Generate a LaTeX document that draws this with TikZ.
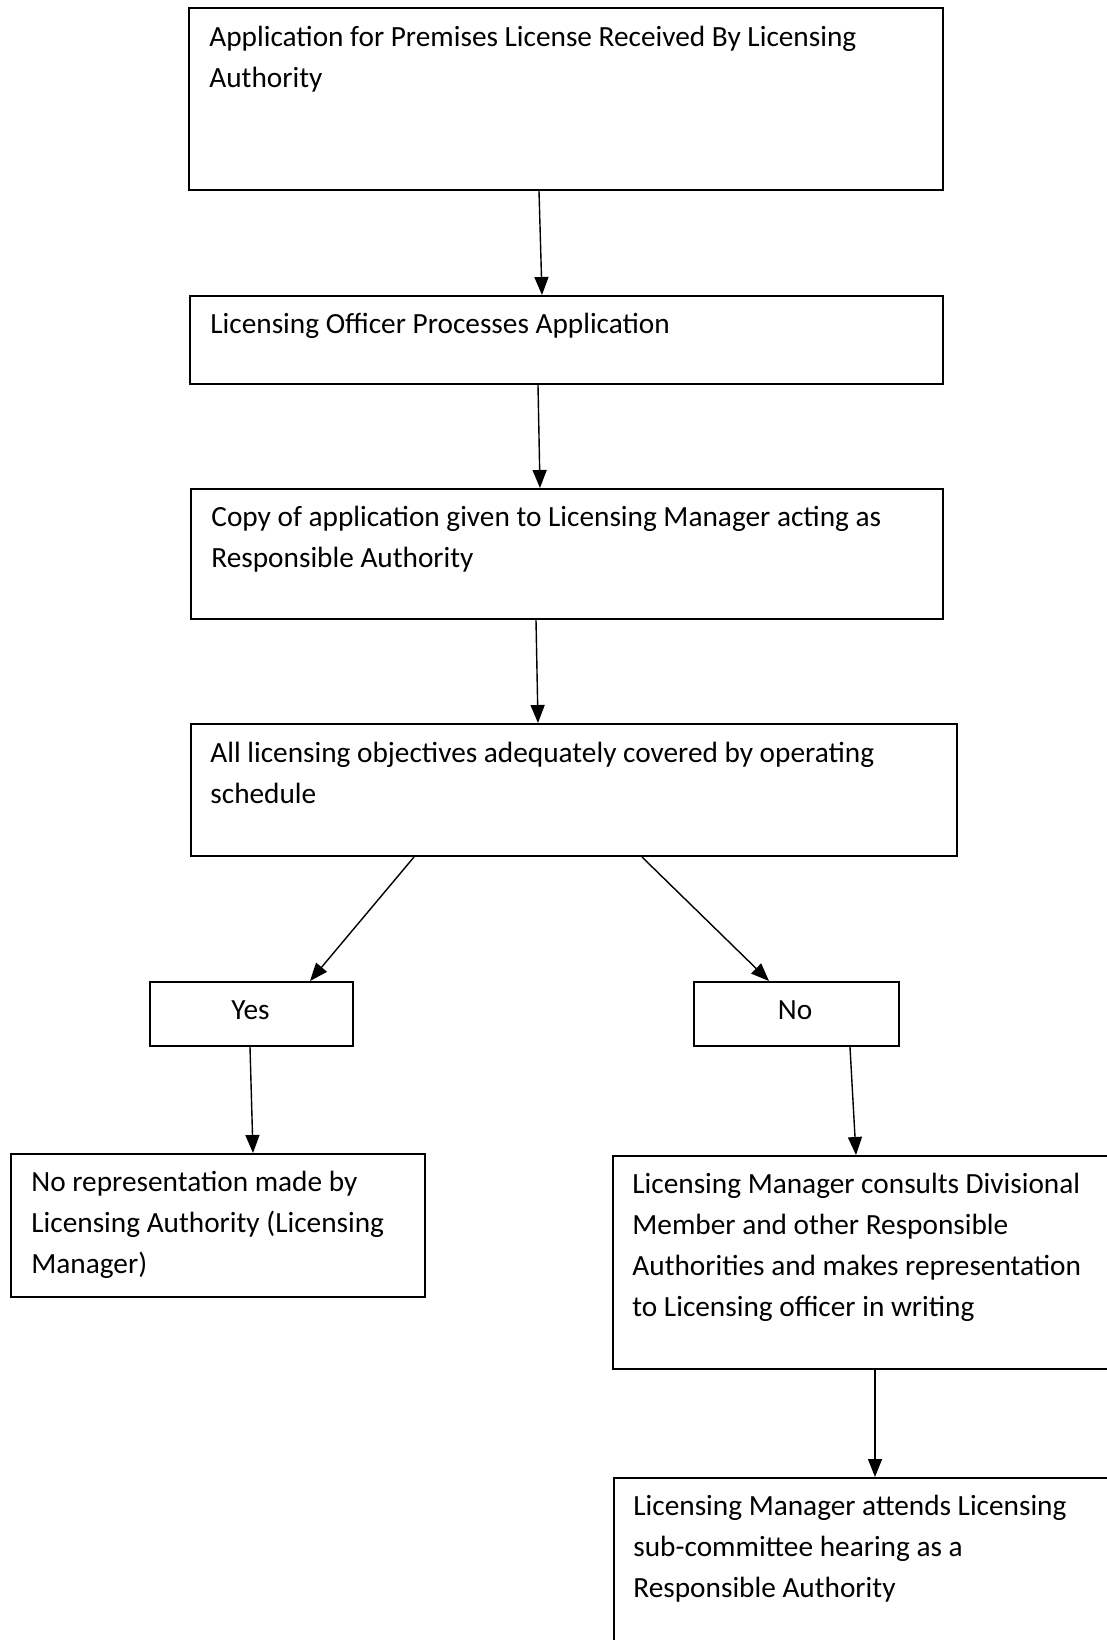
\documentclass[tikz,border=0pt]{standalone}
\usepackage{fontspec}
\setmainfont{Carlito}
\usetikzlibrary{arrows.meta}
\newcommand\mlines[1]{\begin{tabular}[t]{@{}l@{}}#1\end{tabular}}
\begin{document}
\begin{tikzpicture}[x=0.5pt,y=-0.5pt,
  box/.style={draw=black,line width=1pt,rectangle,inner sep=0pt,anchor=north west},
  txt/.style={inner sep=0pt,anchor=base west,font=\fontsize{14.65pt}{20.5pt}\selectfont},
  ctxt/.style={inner sep=0pt,anchor=base,font=\fontsize{14.65pt}{20.5pt}\selectfont},
  arr/.style={draw=black,line width=0.7pt,-{Triangle[width=7pt,length=9pt]}}]
\useasboundingbox (0,0) rectangle (1107,1640);
\clip (0,0) rectangle (1107,1640);
\fill[white] (0,0) rectangle (1107,1640);
% boxes
\node[box,minimum width=377pt,minimum height=91pt] (b1) at (188,7) {};
\node[box,minimum width=376.5pt,minimum height=44pt] (b2) at (189,295) {};
\node[box,minimum width=376pt,minimum height=65pt] (b3) at (190,488) {};
\node[box,minimum width=383pt,minimum height=66pt] (b4) at (190,723) {};
\node[box,minimum width=101.5pt,minimum height=32pt] (yes) at (149,981) {};
\node[box,minimum width=102.5pt,minimum height=32pt] (no) at (693,981) {};
\node[box,minimum width=207pt,minimum height=71.5pt] (nr) at (10,1153) {};
\node[box,minimum width=260pt,minimum height=106.5pt] (cons) at (612,1155) {};
\node[box,minimum width=260pt,minimum height=110pt] (att) at (613,1477) {};
% texts
\node[txt] (t1) at (209,46) {\mlines{Application for Premises License Received By Licensing\\Authority}};
\node[txt] (t2) at (210,333) {Licensing Officer Processes Application};
\node[txt] (t3) at (211,526) {\mlines{Copy of application given to Licensing Manager acting as\\Responsible Authority}};
\node[txt] (t4) at (210,762) {\mlines{All licensing objectives adequately covered by operating\\schedule}};
\node[ctxt] (ty) at (250.5,1019) {Yes};
\node[ctxt] (tn) at (795,1019) {No};
\node[txt] (tnr) at (31,1191) {\mlines{No representation made by\\Licensing Authority (Licensing\\Manager)}};
\node[txt] (tc) at (632,1193) {\mlines{Licensing Manager consults Divisional\\Member and other Responsible\\Authorities and makes representation\\to Licensing officer in writing}};
\node[txt] (ta) at (633,1515) {\mlines{Licensing Manager attends Licensing\\sub-committee hearing as a\\Responsible Authority}};
% connectors
\draw[arr] ([xshift=-13.5pt]b1.south) -- ([xshift=-12.25pt]b2.north);
\draw[arr] ([xshift=-14.25pt]b2.south) -- ([xshift=-13.5pt]b3.north);
\draw[arr] ([xshift=-15.5pt]b3.south) -- ([xshift=-18pt]b4.north);
\draw[arr] ([xshift=-80pt]b4.south) -- ([xshift=80.5pt]yes.north west);
\draw[arr] ([xshift=34pt]b4.south) -- ([xshift=38pt]no.north west);
\draw[arr] ([xshift=-0.75pt]yes.south) -- ([xshift=17.5pt]nr.north);
\draw[arr] ([xshift=78.5pt]no.south west) -- ([xshift=122pt]cons.north west);
\draw[arr] ([xshift=131.5pt]cons.south west) -- ([xshift=131pt]att.north west);
\end{tikzpicture}
\end{document}
